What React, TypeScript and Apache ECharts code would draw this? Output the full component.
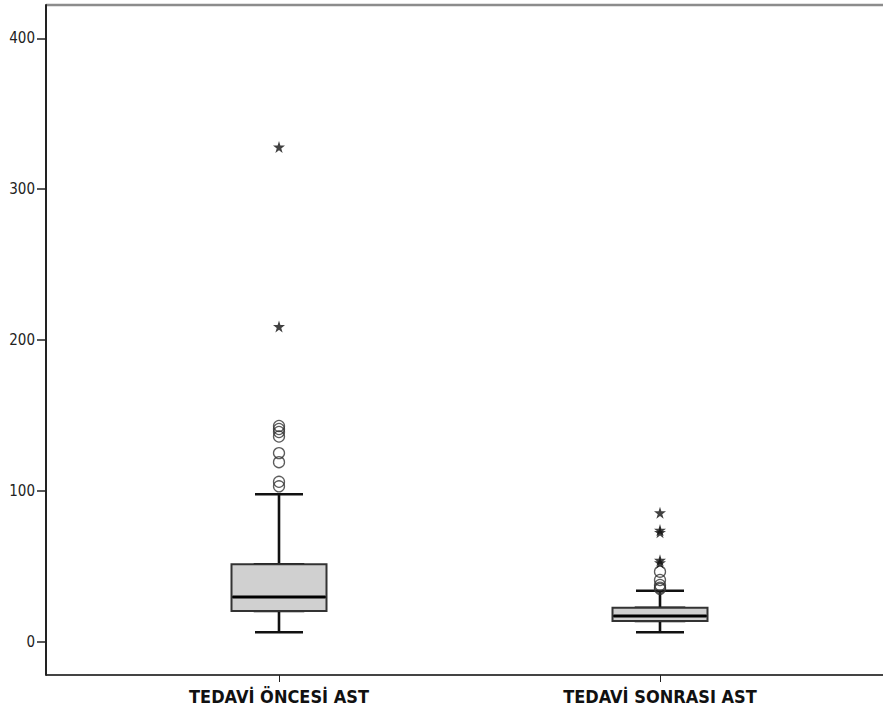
import React, { useEffect, useRef } from "react";
import * as echarts from "echarts";

const categories = ["TEDAVİ ÖNCESİ AST", "TEDAVİ SONRASI AST"];
// [min, Q1, median, Q3, max]
const boxStats = [
  [6.2, 20.4, 29.6, 51.3, 97.7],
  [6.2, 13.7, 17.0, 22.5, 33.8],
];
const outliersBefore = [143, 141, 139, 136, 125, 119, 106, 103];
const extremesBefore = [328, 209];
const outliersAfter = [46.4, 40.9, 37.6, 35.8, 35.0];
const extremesAfter = [85.5, 74, 72.5, 54, 52.4];
const yTicks = [0, 100, 200, 300, 400];

const STAR =
  "path://M50,0 L61,35 L98,35 L68,57 L79,91 L50,70 L21,91 L32,57 L2,35 L39,35 Z";

export default function App() {
  const ref = useRef<HTMLDivElement>(null);
  useEffect(() => {
    if (!ref.current) return;
    const chart = echarts.init(ref.current, null, { renderer: "svg" });
    const outlierData = [
      ...outliersBefore.map((v) => [categories[0], v]),
      ...outliersAfter.map((v) => [categories[1], v]),
    ];
    const extremeData = [
      ...extremesBefore.map((v) => [categories[0], v]),
      ...extremesAfter.map((v) => [categories[1], v]),
    ];
    // box only (no whiskers): [Q1, Q1, median, Q3, Q3]
    const boxOnly = boxStats.map((s) => [s[1], s[1], s[2], s[3], s[3]]);
    const medianOnly = boxStats.map((s) => [s[2], s[2], s[2], s[2], s[2]]);
    chart.setOption({
      animation: false,
      backgroundColor: "#fff",
      grid: { left: 88.5, right: 32.5, top: 5, bottom: 39 },
      graphic: [
        {
          type: "line",
          z: -1,
          shape: { x1: 46, y1: 5, x2: 883, y2: 5 },
          style: { stroke: "#8c8c8c", lineWidth: 2.5 },
        },
        {
          type: "line",
          z: -1,
          shape: { x1: 46, y1: 675, x2: 883, y2: 675 },
          style: { stroke: "#444", lineWidth: 2 },
        },
      ],
      xAxis: [
        {
          type: "category",
          data: categories,
          axisLine: { show: true, onZero: false, lineStyle: { color: "#444", width: 2 } },
          axisTick: {
            show: true,
            alignWithLabel: true,
            length: 7,
            lineStyle: { color: "#222", width: 1 },
          },
          axisLabel: {
            color: "#111",
            fontSize: 18,
            fontWeight: "bold",
            fontFamily: "DejaVu Sans Condensed, DejaVu Sans, sans-serif",
            margin: 12,
          },
          splitLine: { show: false },
        },
        { type: "category", data: categories, show: false },
        { type: "category", data: categories, show: false },
      ],
      yAxis: {
        type: "value",
        min: -22.1,
        max: 422.1,
        offset: 42.5,
        axisLine: { show: true, lineStyle: { color: "#222", width: 2 } },
        axisTick: {
          show: true,
          length: 9,
          customValues: yTicks,
          lineStyle: { color: "#222", width: 1.5 },
        },
        axisLabel: {
          color: "#222",
          fontSize: 15,
          fontFamily: "DejaVu Sans Condensed, DejaVu Sans, sans-serif",
          margin: 11,
          customValues: yTicks,
        },
        splitLine: { show: false },
      },
      series: [
        {
          type: "boxplot",
          xAxisIndex: 0,
          data: boxStats,
          boxWidth: [48, 48],
          silent: true,
          z: 2,
          itemStyle: { color: "#d0d0d0", borderColor: "#111", borderWidth: 2.6 },
          emphasis: { disabled: true },
        },
        {
          type: "boxplot",
          xAxisIndex: 1,
          data: boxOnly,
          boxWidth: [95, 95],
          silent: true,
          z: 3,
          itemStyle: { color: "#d0d0d0", borderColor: "#333", borderWidth: 2 },
          emphasis: { disabled: true },
        },
        {
          type: "boxplot",
          xAxisIndex: 2,
          data: medianOnly,
          boxWidth: [93, 93],
          silent: true,
          z: 4,
          itemStyle: { color: "rgba(0,0,0,0)", borderColor: "#000", borderWidth: 3.2 },
          emphasis: { disabled: true },
        },
        {
          type: "scatter",
          data: outlierData,
          symbol: "circle",
          symbolSize: 11,
          silent: true,
          z: 5,
          itemStyle: { color: "rgba(0,0,0,0)", borderColor: "#333", borderWidth: 1.3 },
        },
        {
          type: "scatter",
          data: extremeData,
          symbol: STAR,
          symbolSize: 12,
          silent: true,
          z: 5,
          itemStyle: { color: "#111" },
        },
      ],
    });
    return () => chart.dispose();
  }, []);
  return (
    <div
      ref={ref}
      style={{ position: "fixed", left: 0, top: 0, width: 883, height: 714 }}
    />
  );
}
